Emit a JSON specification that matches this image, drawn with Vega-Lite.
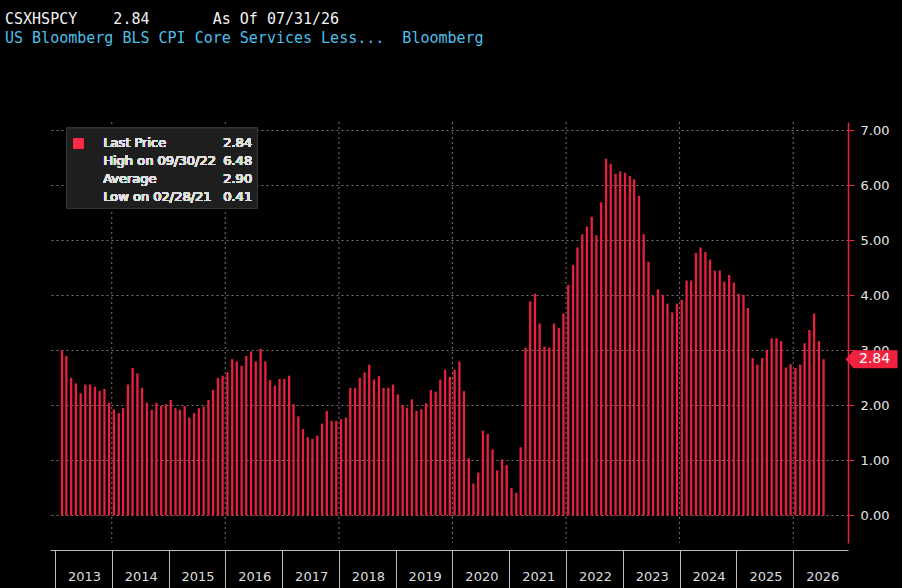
{
  "$schema": "https://vega.github.io/schema/vega-lite/v6.json",
  "width": 798,
  "height": 421,
  "autosize": "none",
  "padding": {"left": 50, "top": 122, "right": 54, "bottom": 45},
  "background": "black",
  "config": {"view": {"stroke": null}, "font": "DejaVu Sans"},
  "title": {
    "text": "CSXHSPCY\u00a0\u00a0\u00a0\u00a02.84\u00a0\u00a0\u00a0\u00a0\u00a0\u00a0\u00a0As\u00a0Of\u00a007/31/26",
    "subtitle": "US Bloomberg BLS CPI Core Services Less...\u00a0\u00a0Bloomberg",
    "anchor": "start",
    "frame": "group",
    "dx": -45,
    "offset": 76,
    "font": "DejaVu Sans Mono",
    "fontSize": 15,
    "fontWeight": "normal",
    "color": "#f2f2f2",
    "subtitleFont": "DejaVu Sans Mono",
    "subtitleFontSize": 15,
    "subtitleColor": "#4cbfe8",
    "subtitlePadding": 4
  },
  "data": {"values": [
    {"d":"2013-02-15","v":3.00},{"d":"2013-03-15","v":2.90},{"d":"2013-04-15","v":2.50},{"d":"2013-05-15","v":2.40},{"d":"2013-06-15","v":2.22},{"d":"2013-07-15","v":2.38},{"d":"2013-08-15","v":2.38},{"d":"2013-09-15","v":2.34},{"d":"2013-10-15","v":2.26},{"d":"2013-11-15","v":2.30},{"d":"2013-12-15","v":2.05},
    {"d":"2014-01-15","v":1.93},{"d":"2014-02-15","v":1.86},{"d":"2014-03-15","v":1.95},{"d":"2014-04-15","v":2.38},{"d":"2014-05-15","v":2.68},{"d":"2014-06-15","v":2.58},{"d":"2014-07-15","v":2.32},{"d":"2014-08-15","v":2.05},{"d":"2014-09-15","v":1.92},{"d":"2014-10-15","v":2.05},{"d":"2014-11-15","v":1.99},{"d":"2014-12-15","v":2.02},
    {"d":"2015-01-15","v":2.10},{"d":"2015-02-15","v":1.95},{"d":"2015-03-15","v":1.92},{"d":"2015-04-15","v":1.99},{"d":"2015-05-15","v":1.78},{"d":"2015-06-15","v":1.86},{"d":"2015-07-15","v":1.95},{"d":"2015-08-15","v":1.98},{"d":"2015-09-15","v":2.10},{"d":"2015-10-15","v":2.28},{"d":"2015-11-15","v":2.50},{"d":"2015-12-15","v":2.54},
    {"d":"2016-01-15","v":2.60},{"d":"2016-02-15","v":2.84},{"d":"2016-03-15","v":2.80},{"d":"2016-04-15","v":2.72},{"d":"2016-05-15","v":2.90},{"d":"2016-06-15","v":2.98},{"d":"2016-07-15","v":2.80},{"d":"2016-08-15","v":3.03},{"d":"2016-09-15","v":2.80},{"d":"2016-10-15","v":2.46},{"d":"2016-11-15","v":2.36},{"d":"2016-12-15","v":2.48},
    {"d":"2017-01-15","v":2.48},{"d":"2017-02-15","v":2.54},{"d":"2017-03-15","v":2.02},{"d":"2017-04-15","v":1.80},{"d":"2017-05-15","v":1.57},{"d":"2017-06-15","v":1.42},{"d":"2017-07-15","v":1.39},{"d":"2017-08-15","v":1.45},{"d":"2017-09-15","v":1.67},{"d":"2017-10-15","v":1.90},{"d":"2017-11-15","v":1.72},{"d":"2017-12-15","v":1.72},
    {"d":"2018-01-15","v":1.75},{"d":"2018-02-15","v":1.78},{"d":"2018-03-15","v":2.32},{"d":"2018-04-15","v":2.32},{"d":"2018-05-15","v":2.50},{"d":"2018-06-15","v":2.60},{"d":"2018-07-15","v":2.74},{"d":"2018-08-15","v":2.47},{"d":"2018-09-15","v":2.53},{"d":"2018-10-15","v":2.32},{"d":"2018-11-15","v":2.32},{"d":"2018-12-15","v":2.38},
    {"d":"2019-01-15","v":2.20},{"d":"2019-02-15","v":2.01},{"d":"2019-03-15","v":1.96},{"d":"2019-04-15","v":2.11},{"d":"2019-05-15","v":1.90},{"d":"2019-06-15","v":1.93},{"d":"2019-07-15","v":2.04},{"d":"2019-08-15","v":2.28},{"d":"2019-09-15","v":2.25},{"d":"2019-10-15","v":2.47},{"d":"2019-11-15","v":2.65},{"d":"2019-12-15","v":2.52},
    {"d":"2020-01-15","v":2.65},{"d":"2020-02-15","v":2.80},{"d":"2020-03-15","v":2.26},{"d":"2020-04-15","v":1.04},{"d":"2020-05-15","v":0.58},{"d":"2020-06-15","v":0.78},{"d":"2020-07-15","v":1.54},{"d":"2020-08-15","v":1.48},{"d":"2020-09-15","v":1.20},{"d":"2020-10-15","v":0.82},{"d":"2020-11-15","v":1.02},{"d":"2020-12-15","v":0.92},
    {"d":"2021-01-15","v":0.50},{"d":"2021-02-15","v":0.41},{"d":"2021-03-15","v":1.24},{"d":"2021-04-15","v":3.05},{"d":"2021-05-15","v":3.89},{"d":"2021-06-15","v":4.03},{"d":"2021-07-15","v":3.49},{"d":"2021-08-15","v":3.07},{"d":"2021-09-15","v":3.05},{"d":"2021-10-15","v":3.49},{"d":"2021-11-15","v":3.41},{"d":"2021-12-15","v":3.67},
    {"d":"2022-01-15","v":4.19},{"d":"2022-02-15","v":4.55},{"d":"2022-03-15","v":4.87},{"d":"2022-04-15","v":5.11},{"d":"2022-05-15","v":5.25},{"d":"2022-06-15","v":5.43},{"d":"2022-07-15","v":5.09},{"d":"2022-08-15","v":5.69},{"d":"2022-09-15","v":6.48},{"d":"2022-10-15","v":6.39},{"d":"2022-11-15","v":6.21},{"d":"2022-12-15","v":6.25},
    {"d":"2023-01-15","v":6.23},{"d":"2023-02-15","v":6.17},{"d":"2023-03-15","v":6.11},{"d":"2023-04-15","v":5.81},{"d":"2023-05-15","v":5.11},{"d":"2023-06-15","v":4.61},{"d":"2023-07-15","v":3.99},{"d":"2023-08-15","v":4.11},{"d":"2023-09-15","v":4.01},{"d":"2023-10-15","v":3.85},{"d":"2023-11-15","v":3.69},{"d":"2023-12-15","v":3.85},
    {"d":"2024-01-15","v":3.92},{"d":"2024-02-15","v":4.27},{"d":"2024-03-15","v":4.27},{"d":"2024-04-15","v":4.77},{"d":"2024-05-15","v":4.87},{"d":"2024-06-15","v":4.79},{"d":"2024-07-15","v":4.65},{"d":"2024-08-15","v":4.45},{"d":"2024-09-15","v":4.45},{"d":"2024-10-15","v":4.25},{"d":"2024-11-15","v":4.37},{"d":"2024-12-15","v":4.23},
    {"d":"2025-01-15","v":4.03},{"d":"2025-02-15","v":4.01},{"d":"2025-03-15","v":3.77},{"d":"2025-04-15","v":2.86},{"d":"2025-05-15","v":2.74},{"d":"2025-06-15","v":2.86},{"d":"2025-07-15","v":3.01},{"d":"2025-08-15","v":3.22},{"d":"2025-09-15","v":3.22},{"d":"2025-10-15","v":3.17},{"d":"2025-11-15","v":2.69},{"d":"2025-12-15","v":2.75},
    {"d":"2026-01-15","v":2.68},{"d":"2026-02-15","v":2.74},{"d":"2026-03-15","v":3.13},{"d":"2026-04-15","v":3.37},{"d":"2026-05-15","v":3.67},{"d":"2026-06-15","v":3.17},{"d":"2026-07-15","v":2.84}
  ]},
  "layer": [
    {
      "data": {"values": [{"g":"2014-01-01"},{"g":"2016-01-01"},{"g":"2018-01-01"},{"g":"2020-01-01"},{"g":"2022-01-01"},{"g":"2024-01-01"},{"g":"2026-01-01"}]},
      "mark": {"type": "rule", "color": "#777", "strokeDash": [2, 3], "strokeWidth": 1},
      "encoding": {"x": {"field": "g", "type": "temporal"}}
    },
    {
      "mark": {"type": "bar", "width": 2.3, "color": "#e8203f"},
      "encoding": {
        "x": {
          "field": "d", "type": "temporal",
          "scale": {"domain": [{"year": 2013, "month": 1, "date": 1}, {"year": 2026, "month": 11, "date": 17}]},
          "axis": {
            "title": null,
            "orient": "bottom",
            "offset": 7,
            "grid": false,
            "values": [{"year":2013,"month":1,"date":1},{"year":2014,"month":1,"date":1},{"year":2015,"month":1,"date":1},{"year":2016,"month":1,"date":1},{"year":2017,"month":1,"date":1},{"year":2018,"month":1,"date":1},{"year":2019,"month":1,"date":1},{"year":2020,"month":1,"date":1},{"year":2021,"month":1,"date":1},{"year":2022,"month":1,"date":1},{"year":2023,"month":1,"date":1},{"year":2024,"month":1,"date":1},{"year":2025,"month":1,"date":1},{"year":2026,"month":1,"date":1}],
            "labelExpr": "timeFormat(datum.value, '%Y')",
            "labelAlign": "center",
            "labelOffset": 29,
            "labelPadding": -18,
            "labelColor": "#dddddd",
            "labelFontSize": 13,
            "labelFlush": false,
            "domainColor": "#bbbbbb",
            "tickColor": "#bbbbbb",
            "tickSize": 38
          }
        },
        "y": {
          "field": "v", "type": "quantitative",
          "scale": {"domain": [-0.5, 7.15], "nice": false},
          "axis": {
            "title": null,
            "orient": "right",
            "values": [0, 1, 2, 3, 4, 5, 6, 7],
            "format": ".2f",
            "grid": true,
            "gridColor": "#777",
            "gridDash": [2, 3],
            "domainColor": "#e8203f",
            "domainWidth": 1.5,
            "tickColor": "#e8203f",
            "tickSize": 6,
            "labelColor": "#e6e6e6",
            "labelFontSize": 13,
            "labelPadding": 6
          }
        }
      }
    },
    {
      "transform": [{"filter": "datum.v == 2.84 && year(datum.d) == 2026"}],
      "mark": {"type": "point", "filled": true, "size": 400, "opacity": 1, "color": "#f0233f",
        "shape": "M2.2,0 L3,-0.9 L7.4,-0.9 L7.4,0.9 L3,0.9 Z"},
      "encoding": {"x": {"field": "d", "type": "temporal"}, "y": {"field": "v", "type": "quantitative"}}
    },
    {
      "transform": [{"filter": "datum.v == 2.84 && year(datum.d) == 2026"}],
      "mark": {"type": "text", "dx": 51, "color": "white", "fontSize": 14, "align": "center", "baseline": "middle"},
      "encoding": {"x": {"field": "d", "type": "temporal"}, "y": {"field": "v", "type": "quantitative"}, "text": {"field": "v", "format": ".2f"}}
    },
    {
      "mark": {"type": "rect", "color": "#1e1e1e", "stroke": "#333"},
      "encoding": {
        "x": {"datum": {"year": 2013, "month": 3, "date": 16}, "type": "temporal"},
        "x2": {"datum": {"year": 2016, "month": 7, "date": 25}},
        "y": {"datum": 7.04, "type": "quantitative"},
        "y2": {"datum": 5.58}
      }
    },
    {
      "mark": {"type": "point", "shape": "square", "filled": true, "size": 90, "opacity": 1, "color": "#ff2a45"},
      "encoding": {
        "x": {"datum": {"year": 2013, "month": 6, "date": 1}, "type": "temporal"},
        "y": {"datum": 6.76, "type": "quantitative"}
      }
    },
    {
      "mark": {"type": "text", "align": "left", "baseline": "middle", "color": "#e0e0e0", "fontSize": 13, "lineHeight": 17.7,
        "text": ["Last Price", "High on 09/30/22", "Average", "Low on 02/28/21"]},
      "encoding": {
        "x": {"datum": {"year": 2013, "month": 11, "date": 7}, "type": "temporal"},
        "y": {"datum": 6.76, "type": "quantitative"}
      }
    },
    {
      "mark": {"type": "text", "align": "right", "baseline": "middle", "color": "#e0e0e0", "fontSize": 13, "lineHeight": 17.7,
        "text": ["2.84", "6.48", "2.90", "0.41"]},
      "encoding": {
        "x": {"datum": {"year": 2016, "month": 6, "date": 22}, "type": "temporal"},
        "y": {"datum": 6.76, "type": "quantitative"}
      }
    }
  ]
}
